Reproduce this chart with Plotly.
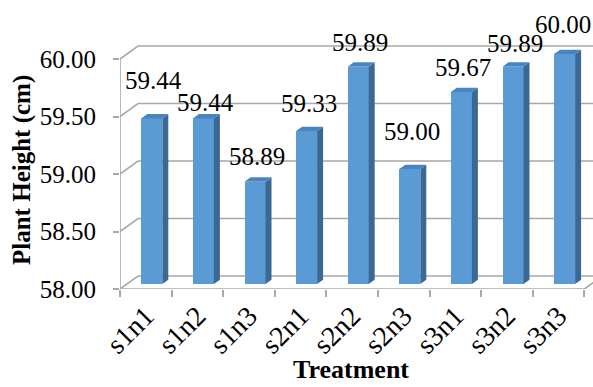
import plotly.graph_objects as go

# ---- data ----
categories = ["s1n1", "s1n2", "s1n3", "s2n1", "s2n2", "s2n3", "s3n1", "s3n2", "s3n3"]
heights = [59.44, 59.44, 58.89, 59.33, 59.89, 59.00, 59.67, 59.89, 60.00]
y_ticks = [58.0, 58.5, 59.0, 59.5, 60.0]
y_tick_text = ["58.00", "58.50", "59.00", "59.50", "60.00"]
label_lift = [38, 16, 25, 28, 24, 38, 24, 23, 30]   # px above bar top (Excel placement)
label_nudge = [0, 0, 0, 0, 0, 0, 0, 0, -4]          # px sideways (keep inside page)

# ---- geometry / style ----
W, H = 593, 387
ML, MB = 120, 98
UX, UY = 51.6, 115.0
Y0 = 58.0
x_range = [-0.5, -0.5 + (W - ML) / UX]
y_range = [Y0, Y0 + (H - MB) / UY]
DX, DY = 18 / UX, 13 / UY            # chart depth (back wall offset)
BX, BY = 6 / UX, 5 / UY              # bar front face offset into depth
SX, SY = 6 / UX, 4.3 / UY            # bar depth
BAR_W = 21 / UX
GRID = "#A8A8A8"
FRONT = "#5B9BD5"
SIDE = "#3C6894"
TOP = "#4A84C0"
FONT = "Liberation Serif"

n = len(categories)
idx = list(range(n))

fig = go.Figure()

fig.add_trace(go.Bar(
    x=[i + BX for i in idx],
    y=[v - Y0 for v in heights],
    base=Y0 + BY,
    width=BAR_W,
    marker=dict(color=FRONT, line=dict(width=0)),
    hoverinfo="skip",
))

shapes = []
# back wall gridlines with left-wall diagonals
for t in y_ticks:
    shapes.append(dict(
        type="path", xref="x", yref="y", layer="below",
        path=f"M {-0.5},{t} L {-0.5 + DX},{t + DY} L {n + 1},{t + DY}",
        line=dict(color=GRID, width=1.6),
    ))
# front floor edge + right diagonal
shapes.append(dict(
    type="path", xref="x", yref="y", layer="below",
    path=f"M {-0.5},{Y0} L {n - 0.5},{Y0} L {n - 0.5 + DX},{Y0 + DY}",
    line=dict(color=GRID, width=1.6),
))
# front vertical axis line
shapes.append(dict(
    type="line", xref="x", yref="y", layer="below",
    x0=-0.5, x1=-0.5, y0=y_ticks[0], y1=y_ticks[-1],
    line=dict(color=GRID, width=1.6),
))
# bar side and top faces
for i, v in zip(idx, heights):
    xl = i + BX - BAR_W / 2
    xr = i + BX + BAR_W / 2
    yb = Y0 + BY
    yt = v + BY
    shapes.append(dict(
        type="path", xref="x", yref="y", layer="above",
        path=f"M {xr},{yb} L {xr + SX},{yb + SY} L {xr + SX},{yt + SY} L {xr},{yt} Z",
        fillcolor=SIDE, line=dict(width=0),
    ))
    shapes.append(dict(
        type="path", xref="x", yref="y", layer="above",
        path=f"M {xl},{yt} L {xr},{yt} L {xr + SX},{yt + SY} L {xl + SX},{yt + SY} Z",
        fillcolor=TOP, line=dict(width=0),
    ))

annotations = []
for i, v, lift, nudge in zip(idx, heights, label_lift, label_nudge):
    annotations.append(dict(
        x=i + BX + 0.04, y=v + BY, xref="x", yref="y",
        text=f"{v:.2f}", showarrow=False, yshift=lift, xshift=nudge,
        xanchor="center", yanchor="middle",
        font=dict(family=FONT, size=25, color="black"),
    ))
annotations.append(dict(
    x=(22 - ML) / (W - ML), y=(H - MB - 170) / (H - MB), xref="paper", yref="paper",
    text="<b>Plant Height (cm)</b>", textangle=-90, showarrow=False,
    xanchor="center", yanchor="middle",
    font=dict(family=FONT, size=25, color="black"),
))
annotations.append(dict(
    x=(351 - ML) / (W - ML), y=-(369 - (H - MB)) / (H - MB), xref="paper", yref="paper",
    text="<b>Treatment</b>", showarrow=False,
    xanchor="center", yanchor="middle",
    font=dict(family=FONT, size=26, color="black"),
))

fig.update_layout(
    width=W, height=H,
    margin=dict(l=ML, r=0, t=0, b=MB, pad=0),
    paper_bgcolor="white", plot_bgcolor="white",
    showlegend=False,
    bargap=0,
    shapes=shapes,
    annotations=annotations,
    xaxis=dict(
        range=x_range, showgrid=False, zeroline=False, showline=False,
        tickmode="array", tickvals=idx, ticktext=categories,
        ticks="", tickangle=-45, ticklabelstandoff=4,
        tickfont=dict(family=FONT, size=28, color="black"),
        minor=dict(tickmode="array", tickvals=[i - 0.5 for i in range(n + 1)],
                   ticks="outside", ticklen=7, tickcolor=GRID, tickwidth=1.6, showgrid=False),
    ),
    yaxis=dict(
        range=y_range, showgrid=False, zeroline=False, showline=False,
        tickmode="array", tickvals=y_ticks, ticktext=y_tick_text,
        ticks="outside", ticklen=6, tickcolor=GRID, tickwidth=1.6,
        ticklabelstandoff=12,
        tickfont=dict(family=FONT, size=25, color="black"),
    ),
)

fig.write_html("out.html")
